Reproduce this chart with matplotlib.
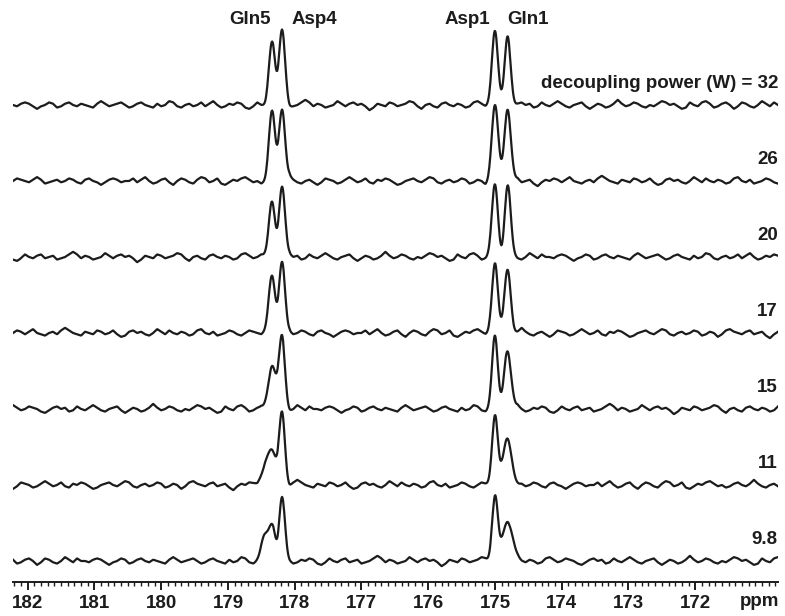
import numpy as np
import matplotlib.pyplot as plt

plt.rcParams['font.family'] = ['Liberation Sans', 'DejaVu Sans']

# decoupling power for each trace, top to bottom
powers = ['32', '26', '20', '17', '15', '11', '9.8']

# peak positions (ppm)
gln5_pos = 178.34
gln5b_pos = 178.45
asp4_pos = 178.19
asp1_pos = 175.00
gln1_pos = 174.81

# peak heights (same units as the trace spacing) and widths (ppm), per trace
gln5_h = [61, 68, 57, 55, 45, 33, 33]
gln5_w = [0.046, 0.046, 0.046, 0.047, 0.056, 0.07, 0.05]
gln5b_h = [0, 0, 0, 0, 0, 8, 25]
gln5b_w = [0.06, 0.06, 0.06, 0.06, 0.06, 0.08, 0.05]
asp4_h = [75, 72, 71, 72, 72, 70, 62]
asp4_w = [0.045, 0.045, 0.045, 0.045, 0.044, 0.042, 0.042]
asp1_h = [72, 73, 71, 72, 73, 70, 67]
asp1_w = [0.045, 0.048, 0.045, 0.044, 0.043, 0.043, 0.043]
gln1_h = [72, 72, 71, 62, 57, 47, 41]
gln1_w = [0.045, 0.048, 0.045, 0.047, 0.052, 0.062, 0.072]

# baseline noise (one value every ~0.06 ppm)
noise = [
    0, 2, -1, 1, 3, 0, -2, -1, 1, 2, -1, -3, 0, 2, 1, -1,
    -2, 1, 3, 2, -1, 0, 2, -2, -3, -1, 1, 0, 2, 3, 1, -1,
    0, -2, -1, 1, 2, 0, -1, 1, 4, 1, -1, -2, 0, 1, -1, -3,
    -1, 2, 1, 0, -2, -1, 1, 3, 1, -1, 0, 2, -1, -2, 1, 0,
    2, 1, -1, -3, -2, 0, 1, 2, 0, -1, 1, 3, 2, -1, -2, 0,
    1, -1, 0, 2, 1, -2, -1, 1, 0, -3, -1, 2, 3, 1, 0, -1,
    1, 2, -1, 0, 1, -2, -4, -1, 1, 0, 2, 1, -1, 1, 3, 0,
    -1, -2, 0, 1, -1, 2, 4, 2, 0, -1, -2, 1, 0, -1, 2, 1,
    -1, 0, 2, -1, -3, -2, 1, 2, 0, 1, -1, -2, 0, 3, 1, -1,
    2, 0, -1, 1, 0, -2, -1, 2, 3, 0, -1, 1, -2, -1, 0, 2,
    1, -1, -2, 0, 2, 1, 0, -1, 1, 3, 1, -2, -1, 0, 1, -1,
    0, 2, 1, -1, -2, 1, 2, 0, -1, -3, -1, 1, 2, 1, -1, 0,
]

xticks = [182, 181, 180, 179, 178, 177, 176, 175, 174, 173, 172]
labels = [('Gln5', 178.67), ('Asp4', 177.70), ('Asp1', 175.42), ('Gln1', 174.50)]

X_LEFT, X_RIGHT = 182.22, 170.76
SPACING = 76
ink = '#1c1c1c'
FS = 13.5


def gauss(x, pos, h, w):
    return h * np.exp(-(x - pos) ** 2 / (2 * w ** 2))


fig = plt.figure(figsize=(7.85, 6.16), dpi=100)
ax = fig.add_axes([13 / 785, 34 / 616, 765 / 785, 582 / 616])

coarse = np.linspace(X_RIGHT, X_LEFT, len(noise))
x = np.linspace(X_RIGHT, X_LEFT, 1400)
noise = np.array(noise, dtype=float)

for j, p in enumerate(powers):
    base = 21 + SPACING * (len(powers) - 1 - j)
    nz = np.roll(noise, 29 * j)
    if j % 2:
        nz = nz[::-1]
    y = np.interp(x, coarse, nz) * 1.3
    y += gauss(x, gln5_pos, gln5_h[j], gln5_w[j])
    y += gauss(x, gln5b_pos, gln5b_h[j], gln5b_w[j])
    y += gauss(x, asp4_pos, asp4_h[j], asp4_w[j])
    y += gauss(x, asp1_pos, asp1_h[j], asp1_w[j])
    y += gauss(x, gln1_pos, gln1_h[j], gln1_w[j])
    ax.plot(x, y + base, color=ink, lw=1.6)
    txt = 'decoupling power (W) = ' + p if j == 0 else p
    ax.text(X_RIGHT, base + 22, txt, ha='right', va='center',
            fontsize=FS, fontweight='bold', color=ink)

for name, pos in labels:
    ax.text(pos, 562, name, ha='center', va='center',
            fontsize=FS, fontweight='bold', color=ink)

ax.set_xlim(X_LEFT, X_RIGHT)
ax.set_ylim(0, 582)
for s in ['left', 'right', 'top']:
    ax.spines[s].set_visible(False)
ax.spines['bottom'].set_linewidth(1.4)
ax.spines['bottom'].set_color(ink)
ax.set_yticks([])
ax.set_xticks(xticks)
ax.set_xticklabels([str(t) for t in xticks], fontsize=FS, fontweight='bold', color=ink)
ax.set_xticks(np.arange(170.8, 182.21, 0.1), minor=True)
ax.tick_params(axis='x', which='major', length=6, width=1.4, color=ink, pad=3)
ax.tick_params(axis='x', which='minor', length=3, width=1.0, color=ink)
ax.text(171.03, -0.033, 'ppm', transform=ax.get_xaxis_transform(),
        ha='center', va='center', fontsize=FS, fontweight='bold', color=ink)

fig.savefig('out.png', dpi=100)
